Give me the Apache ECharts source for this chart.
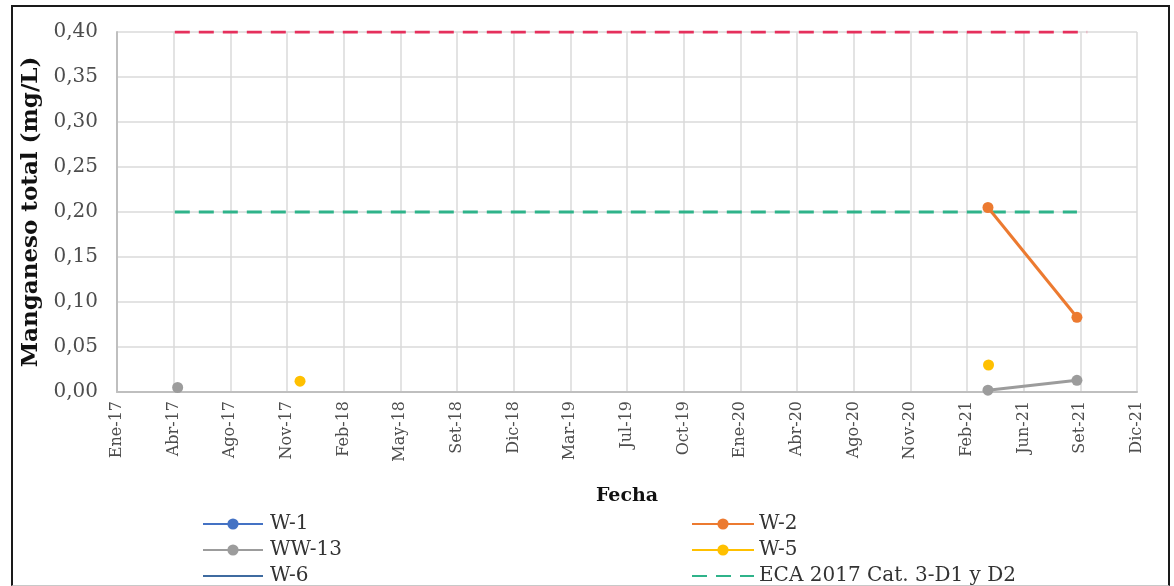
<!DOCTYPE html>
<html>
<head>
<meta charset="utf-8">
<script src="https://cdn.jsdelivr.net/npm/echarts@6/dist/echarts.min.js"></script>
<style>
  html, body { margin: 0; padding: 0; background: #fff; }
  #wrap { position: relative; width: 1174px; height: 586px; }
  #chart { position: absolute; left: 0; top: 0; width: 1174px; height: 586px; }
  #frame { position: absolute; left: 11px; top: 5px; width: 1155px; height: 578px;
           border-left: 2px solid #1a1a1a; border-top: 2px solid #1a1a1a; border-right: 2px solid #1a1a1a;
           border-bottom: 1px solid #c8c8c8; pointer-events: none; }
</style>
</head>
<body>
<div id="wrap">
  <div id="chart"></div>
  <div id="frame"></div>
</div>
<script>
// Month abbreviations for the date axis
const MESES = ['Ene', 'Feb', 'Mar', 'Abr', 'May', 'Jun', 'Jul', 'Ago', 'Set', 'Oct', 'Nov', 'Dic'];

// Date axis: start date, days between ticks, number of intervals
const INICIO_EJE = '2017-01-15';
const DIAS_MARCA = 100;
const N_MARCAS = 18;

// Sampling results per well (null = no sample, breaks the line)
const fechasW1 = [];
const valoresW1 = [];

const fechasW2 = ['2021-04-01', '2021-09-05'];
const valoresW2 = [0.205, 0.083];

const fechasWW13 = ['2017-05-02', '2019-06-01', '2021-04-01', '2021-09-05'];
const valoresWW13 = [0.005, null, 0.002, 0.013];

const fechasW5 = ['2017-12-04', '2019-06-01', '2021-04-02'];
const valoresW5 = [0.012, null, 0.030];

const fechasW6 = [];
const valoresW6 = [];

// Reference standards
const fechasECA = ['2017-04-27', '2021-09-05'];
const valoresECA = [0.20, 0.20];

const fechasLimite = ['2017-04-27', '2021-09-23'];
const valoresLimite = [0.40, 0.40];

// Y axis
const Y_MIN = 0, Y_MAX = 0.40, Y_PASO = 0.05;

const DIA_MS = 86400000;
function aUTC(s) {
  const p = s.split('-').map(Number);
  return Date.UTC(p[0], p[1] - 1, p[2]);
}
const T0 = aUTC(INICIO_EJE);
function aDias(s) { return Math.round((aUTC(s) - T0) / DIA_MS); }

function serieDatos(fechas, valores) {
  return fechas.map((f, i) => [aDias(f), valores[i] === null ? '-' : valores[i]]);
}

function etiquetaFecha(v) {
  const d = new Date(T0 + v * DIA_MS);
  const yy = String(d.getUTCFullYear()).slice(-2);
  return MESES[d.getUTCMonth()] + '-' + yy;
}

const FUENTE = "'DejaVu Serif', 'Liberation Serif', serif";

function serieMarcada(nombre, color, fechas, valores) {
  return {
    name: nombre, type: 'line',
    data: serieDatos(fechas, valores),
    symbol: 'circle', symbolSize: 11, showAllSymbol: true,
    connectNulls: false,
    lineStyle: { color: color, width: 3 },
    itemStyle: { color: color },
    z: 5
  };
}

// Legend entry that shows only the line (no marker)
function soloLinea(nombre) {
  return { name: nombre, itemStyle: { color: 'rgba(0,0,0,0)', borderWidth: 0, opacity: 0 } };
}

const textoLeyenda = { fontFamily: FUENTE, fontSize: 20, color: '#333', lineHeight: 20 };

const chart = echarts.init(document.getElementById('chart'), null, { renderer: 'canvas' });

chart.setOption({
  animation: false,
  backgroundColor: '#ffffff',
  grid: { left: 117, right: 37, top: 32, bottom: 194 },
  xAxis: {
    type: 'value',
    min: 0, max: DIAS_MARCA * N_MARCAS, interval: DIAS_MARCA,
    name: 'Fecha', nameLocation: 'middle', nameGap: 95,
    nameTextStyle: { fontFamily: FUENTE, fontWeight: 'bold', fontSize: 19, color: '#111' },
    axisLine: { show: true, lineStyle: { color: '#BFBFBF', width: 2 } },
    axisTick: { show: false },
    axisLabel: {
      rotate: 90, margin: 9, fontFamily: FUENTE, fontSize: 16, color: '#4d4d4d',
      formatter: etiquetaFecha, showMinLabel: true, showMaxLabel: true
    },
    splitLine: { show: true, lineStyle: { color: '#DADADA', width: 1.5 } }
  },
  yAxis: {
    type: 'value',
    min: Y_MIN, max: Y_MAX, interval: Y_PASO,
    name: 'Manganeso total (mg/L)', nameLocation: 'middle', nameGap: 70, nameRotate: 90,
    nameTextStyle: { fontFamily: FUENTE, fontWeight: 'bold', fontSize: 23, color: '#111' },
    axisLine: { show: true, lineStyle: { color: '#BFBFBF', width: 2 } },
    axisTick: { show: false },
    axisLabel: {
      margin: 19, fontFamily: FUENTE, fontSize: 20, color: '#4d4d4d',
      formatter: v => v.toFixed(2).replace('.', ',')
    },
    splitLine: { show: true, lineStyle: { color: '#DADADA', width: 1.5 } }
  },
  legend: [
    {
      data: ['W-1', 'WW-13', soloLinea('W-6')],
      orient: 'vertical', left: 197, top: 509, height: 120,
      itemWidth: 60, itemHeight: 14, itemGap: 6,
      textStyle: Object.assign({ padding: [0, 0, 0, 2] }, textoLeyenda)
    },
    {
      data: ['W-2', 'W-5', soloLinea('ECA 2017 Cat. 3-D1 y D2')],
      orient: 'vertical', left: 686, top: 509, height: 120,
      itemWidth: 62, itemHeight: 14, itemGap: 6,
      textStyle: Object.assign({ padding: [0, 0, 0, 0] }, textoLeyenda)
    }
  ],
  series: [
    serieMarcada('W-1', '#4472C4', fechasW1, valoresW1),
    serieMarcada('W-2', '#EC7A30', fechasW2, valoresW2),
    serieMarcada('WW-13', '#9C9C9C', fechasWW13, valoresWW13),
    serieMarcada('W-5', '#FFC000', fechasW5, valoresW5),
    {
      name: 'W-6', type: 'line', data: serieDatos(fechasW6, valoresW6),
      symbol: 'none', lineStyle: { color: '#3F6BA0', width: 3 }, itemStyle: { color: '#3F6BA0' }
    },
    {
      name: 'ECA 2017 Cat. 3-D1 y D2', type: 'line', data: serieDatos(fechasECA, valoresECA),
      symbol: 'none',
      lineStyle: { color: '#2FB38A', width: 3, type: [15, 9] },
      itemStyle: { color: '#2FB38A' }, z: 3
    },
    {
      name: 'ECA 2017 (0,40 mg/L)', type: 'line', data: serieDatos(fechasLimite, valoresLimite),
      symbol: 'none',
      lineStyle: { color: '#E5305C', width: 3, type: [15, 9] },
      itemStyle: { color: '#E5305C' }, z: 3
    }
  ]
});
</script>
</body>
</html>
